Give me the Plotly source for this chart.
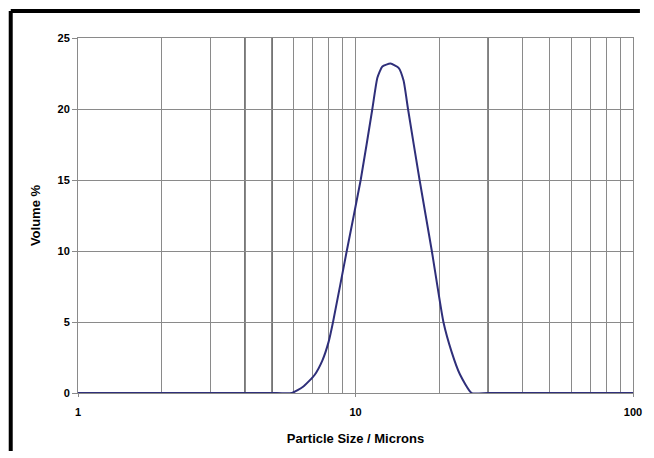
import plotly.graph_objects as go

# Particle size (microns) and volume %
size_um = [1, 2, 3, 4, 5, 5.9, 6.47, 7.12, 7.6, 8.0, 8.3, 9.3, 10.44,
           11.5, 11.99, 12.5, 13.37, 14.3, 14.9, 15.46, 17.02,
           18.84, 20.74, 22.2, 23.8, 26.2, 30, 100]
volume_pct = [0, 0, 0, 0, 0, 0, 0.44, 1.27, 2.3, 3.6, 5.0, 10.0, 15.0,
              20.0, 22.2, 23.0, 23.2, 22.9, 22.0, 20.0, 15.0,
              10.0, 5.0, 2.9, 1.3, 0, 0, 0]

major_ticks = [1, 10, 100]
major_labels = ["1", "10", "100"]
minor_grid = [2, 3, 4, 5, 6, 7, 8, 9, 20, 30, 40, 50, 60, 70, 80, 90]
dark_grid = [4, 5, 30]
y_ticks = [0, 5, 10, 15, 20, 25]

FONT = "Liberation Sans"
GRID = "#8a8a8a"

fig = go.Figure()
fig.add_trace(go.Scatter(
    x=size_um, y=volume_pct, mode="lines",
    line=dict(color="#2f2f7a", width=2, shape="spline", smoothing=0.5),
    hoverinfo="skip", showlegend=False,
))

shapes = []
for v in dark_grid:
    shapes.append(dict(type="line", xref="x", yref="paper", x0=v, x1=v, y0=0, y1=1,
                       line=dict(color="#3a3a3a", width=1.5), layer="below"))
# outer black frame: only left and top edges are visible in the reference
frame_left = -68 / 561
frame_top = 1 + 27 / 355
fig_bottom = -58 / 355
fig_right = 568 / 561
shapes.append(dict(type="line", xref="paper", yref="paper",
                   x0=frame_left, x1=frame_left, y0=fig_bottom, y1=frame_top,
                   line=dict(color="black", width=4), layer="above"))
shapes.append(dict(type="line", xref="paper", yref="paper",
                   x0=frame_left, x1=fig_right, y0=frame_top, y1=frame_top,
                   line=dict(color="black", width=4), layer="above"))

fig.update_layout(
    width=654, height=458,
    margin=dict(l=78, r=15, t=38, b=65),
    paper_bgcolor="white", plot_bgcolor="white",
    font=dict(family=FONT, size=11, color="black"),
    shapes=shapes,
    xaxis=dict(
        type="log", range=[0, 2],
        tickvals=major_ticks, ticktext=major_labels,
        ticks="outside", ticklen=3, tickcolor=GRID,
        ticklabelstandoff=6,
        showgrid=True, gridcolor=GRID, gridwidth=1,
        minor=dict(tickvals=minor_grid, showgrid=True, gridcolor=GRID, gridwidth=1, ticks=""),
        showline=True, linecolor=GRID, mirror=True,
        tickfont=dict(family=FONT, size=11, color="black", weight="bold"),
        title=dict(text="Particle Size / Microns", standoff=16,
                   font=dict(family=FONT, size=13, color="black", weight="bold")),
        zeroline=False,
    ),
    yaxis=dict(
        range=[0, 25], tickvals=y_ticks,
        ticks="outside", ticklen=5, tickcolor=GRID,
        showgrid=True, gridcolor=GRID, gridwidth=1,
        showline=True, linecolor=GRID, mirror=True,
        tickfont=dict(family=FONT, size=11, color="black", weight="bold"),
        title=dict(text="Volume %", standoff=13,
                   font=dict(family=FONT, size=13, color="black", weight="bold")),
        zeroline=False,
    ),
)

fig.write_html("out.html")
